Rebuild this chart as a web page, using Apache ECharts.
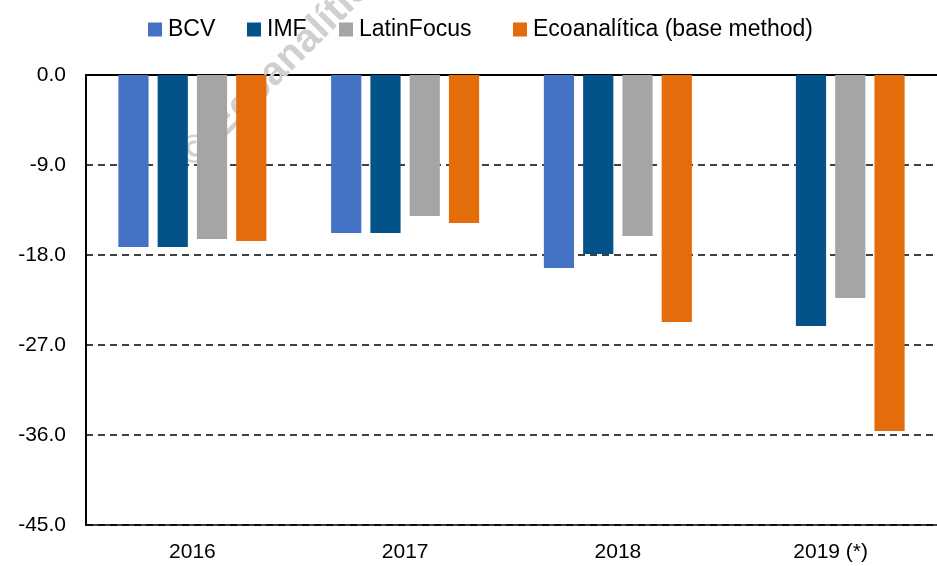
<!DOCTYPE html>
<html>
<head>
<meta charset="utf-8">
<script src="https://cdn.jsdelivr.net/npm/echarts@6/dist/echarts.min.js"></script>
<style>
  html, body { margin: 0; padding: 0; background: #fff; }
  #chart { width: 937px; height: 566px; }
</style>
</head>
<body>
<div id="chart"></div>
<script>
// categories and series values
var years = ['2016', '2017', '2018', '2019 (*)'];
var bcv = [-17.2, -15.8, -19.3, null];
var imf = [-17.2, -15.8, -17.9, -25.1];
var latinFocus = [-16.4, -14.1, -16.1, -22.3];
var ecoanalitica = [-16.6, -14.8, -24.7, -35.6];

var seriesNames = ['BCV', 'IMF', 'LatinFocus', 'Ecoanalítica (base method)'];
var seriesColors = ['#4472C4', '#03538A', '#A5A5A5', '#E46C0A'];

var myChart = echarts.init(document.getElementById('chart'));

function bar(i, data) {
  return {
    name: seriesNames[i],
    type: 'bar',
    data: data,
    barWidth: '14.2%',
    barGap: '30%',
    z: 3,
    itemStyle: { color: seriesColors[i] }
  };
}

// one legend per entry so each can sit where it sits in the picture
var legendLefts = [143, 242, 334, 508];
var legends = seriesNames.map(function (n, i) {
  return {
    left: legendLefts[i],
    top: 13,
    itemWidth: 14,
    itemHeight: 14,
    icon: 'rect',
    selectedMode: false,
    textStyle: { fontSize: 23, color: '#000', padding: [0, 0, 0, 1] },
    data: [n]
  };
});

var option = {
  animation: false,
  textStyle: { fontFamily: 'Liberation Sans, Arial, sans-serif' },
  graphic: [{
    type: 'text',
    x: 186,
    y: 161,
    rotation: 45 * Math.PI / 180,
    z: 1,
    style: {
      text: '© Ecoanalítica',
      fill: '#d0d0d0',
      textAlign: 'left',
      textVerticalAlign: 'middle',
      font: 'bold 40px Liberation Sans, Arial, sans-serif'
    }
  }],
  legend: legends,
  grid: { left: 86, right: 0, top: 75, bottom: 41 },
  xAxis: [{
    type: 'category',
    data: years,
    position: 'bottom',
    axisLine: { onZero: false, lineStyle: { color: '#000', width: 1.5 } },
    axisTick: { show: false },
    axisLabel: { fontSize: 21, color: '#000', margin: 17 }
  }, {
    type: 'category',
    data: years,
    position: 'top',
    axisLine: { lineStyle: { color: '#000', width: 2 } },
    axisTick: { show: false },
    axisLabel: { show: false }
  }],
  yAxis: {
    type: 'value',
    min: -45,
    max: 0,
    interval: 9,
    axisLine: { show: true, lineStyle: { color: '#000', width: 2 } },
    axisTick: { show: false },
    axisLabel: {
      fontSize: 21,
      color: '#000',
      margin: 20,
      formatter: function (v) { return v.toFixed(1); }
    },
    splitLine: { lineStyle: { color: '#000', type: [7, 5], width: 1.5 } }
  },
  series: [
    bar(0, bcv),
    bar(1, imf),
    bar(2, latinFocus),
    bar(3, ecoanalitica)
  ]
};

myChart.setOption(option);
</script>
</body>
</html>
